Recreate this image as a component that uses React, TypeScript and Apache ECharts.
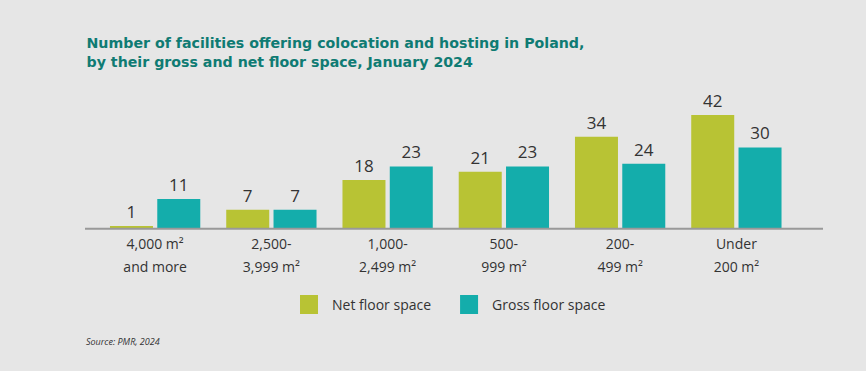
import React, { useEffect, useRef } from "react";
import * as echarts from "echarts";

const categories = ["4,000 m²\nand more", "2,500-\n3,999 m²", "1,000-\n2,499 m²", "500-\n999 m²", "200-\n499 m²", "Under\n200 m²"];
const netValues = [1, 7, 18, 21, 34, 42];
const grossValues = [11, 7, 23, 23, 24, 30];
const seriesNames = ["Net floor space", "Gross floor space"];
const titleLines = ["Number of facilities offering colocation and hosting in Poland,", "by their gross and net floor space, January 2024"];
const sourceText = "Source: PMR, 2024";

const FONT = "'Open Sans', sans-serif";
const TITLE_FONT = "'DejaVu Sans', sans-serif";

export default function App() {
  const ref = useRef<HTMLDivElement>(null);
  useEffect(() => {
    if (!ref.current) return;
    document.body.style.margin = "0";
    const chart = echarts.init(ref.current, null, { renderer: "svg" });
    const titleStyle = { fontFamily: TITLE_FONT, fontSize: 14.2, fontWeight: "bold", color: "#0f7b73", lineHeight: 19 };
    chart.setOption({
      animation: false,
      backgroundColor: "#e6e6e6",
      textStyle: { fontFamily: FONT },
      title: [
        { text: titleLines[0], left: 81.5, top: 28.5, textStyle: titleStyle },
        { text: titleLines[1], left: 81.5, top: 47.5, textStyle: titleStyle },
      ],
      legend: {
        data: seriesNames,
        left: 295,
        top: 290,
        itemWidth: 18,
        itemHeight: 19,
        itemGap: 29,
        icon: "rect",
        textStyle: { fontFamily: FONT, fontSize: 14, color: "#333", padding: [0, 0, 0, 9] },
      },
      grid: { left: 97, right: 71.5, top: 93.3, bottom: 142.3, containLabel: false },
      xAxis: {
        type: "category",
        data: categories,
        axisLine: { show: false },
        axisTick: { show: false },
        axisLabel: { fontFamily: FONT, fontSize: 14, color: "#333", lineHeight: 23, margin: 3 },
      },
      yAxis: { type: "value", min: 0, max: 50, show: false, splitLine: { show: false } },
      series: [
        {
          name: seriesNames[0],
          type: "bar",
          data: netValues,
          barWidth: 43,
          barGap: "10%",
          itemStyle: { color: "#b8c334" },
          label: { show: true, position: "top", distance: 6, fontFamily: FONT, fontSize: 17, color: "#333" },
        },
        {
          name: seriesNames[1],
          type: "bar",
          data: grossValues,
          barWidth: 43,
          barGap: "10%",
          itemStyle: { color: "#14adab" },
          label: { show: true, position: "top", distance: 6, fontFamily: FONT, fontSize: 17, color: "#333" },
        },
      ],
      graphic: [
        { type: "line", z: 10, shape: { x1: 85, y1: 228.7, x2: 823, y2: 228.7 }, style: { stroke: "#999", lineWidth: 2 } },
        { type: "text", left: 86, top: 337, style: { text: sourceText, fontFamily: FONT, fontSize: 9, fontStyle: "italic", fill: "#333" } },
      ],
    });
    return () => chart.dispose();
  }, []);
  return <div ref={ref} style={{ position: "absolute", left: 0, top: 0, width: 866, height: 371 }} />;
}
